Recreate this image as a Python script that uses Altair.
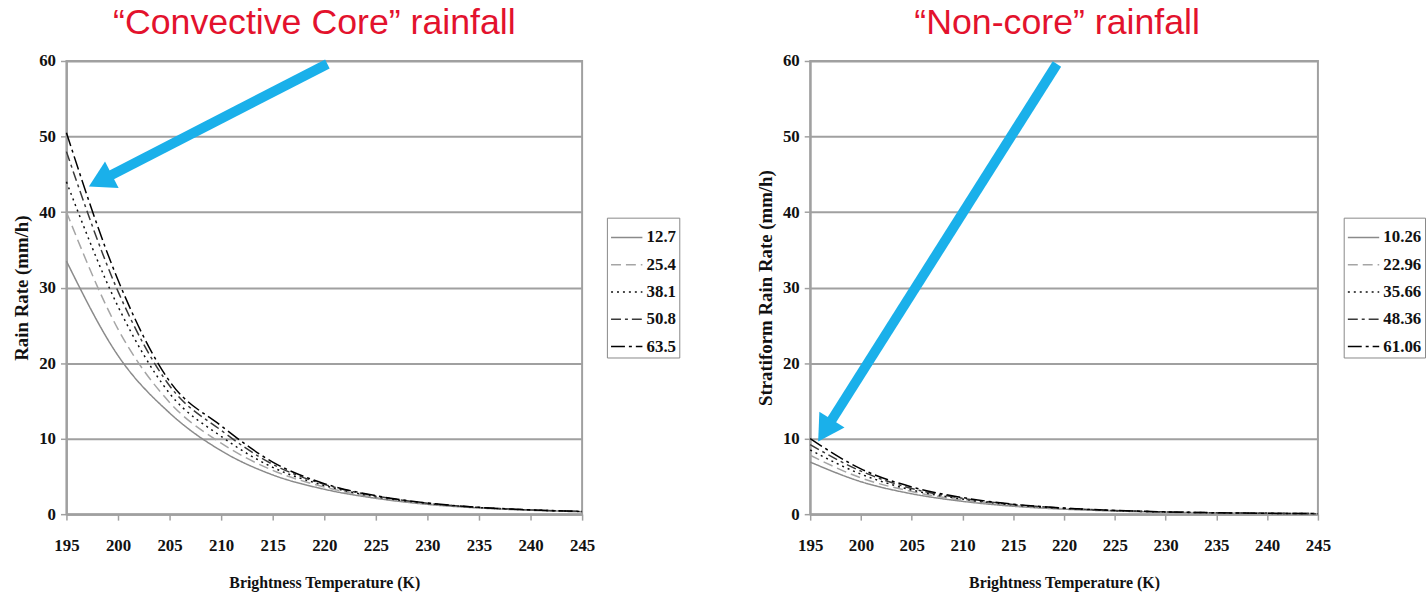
import altair as alt
import pandas as pd

# ---- data ----
temps = [195, 200, 205, 210, 215, 220, 225, 230, 235, 240, 245]

core_labels = ["12.7", "25.4", "38.1", "50.8", "63.5"]
core_127 = [33.5, 21.0, 13.4, 8.4, 5.2, 3.3, 2.1, 1.30, 0.82, 0.52, 0.32]
core_254 = [40.0, 24.5, 14.8, 9.4, 5.8, 3.6, 2.2, 1.38, 0.86, 0.55, 0.34]
core_381 = [44.0, 27.5, 16.0, 10.3, 6.2, 3.8, 2.3, 1.42, 0.88, 0.56, 0.35]
core_508 = [48.0, 29.5, 17.0, 11.1, 6.6, 3.95, 2.4, 1.46, 0.90, 0.57, 0.36]
core_635 = [50.5, 31.0, 17.6, 11.7, 6.9, 4.05, 2.45, 1.48, 0.91, 0.58, 0.36]

strat_labels = ["10.26", "22.96", "35.66", "48.36", "61.06"]
strat_1026 = [6.9, 4.3, 2.7, 1.70, 1.05, 0.66, 0.42, 0.26, 0.16, 0.10, 0.06]
strat_2296 = [7.8, 4.8, 3.0, 1.85, 1.15, 0.72, 0.45, 0.28, 0.17, 0.11, 0.07]
strat_3566 = [8.5, 5.3, 3.2, 2.00, 1.22, 0.76, 0.47, 0.29, 0.18, 0.11, 0.07]
strat_4836 = [9.2, 5.7, 3.4, 2.10, 1.28, 0.79, 0.49, 0.30, 0.19, 0.12, 0.07]
strat_6106 = [10.0, 6.0, 3.6, 2.20, 1.32, 0.81, 0.50, 0.31, 0.19, 0.12, 0.07]

# arrow annotations (data coordinates): start, shaft end, head centre
core_arrow_T = [220.3, 199.2]
core_arrow_R = [59.6, 44.8]
core_head = (198.66, 44.43)
strat_arrow_T = [219.3, 197.05]
strat_arrow_R = [59.6, 12.33]
strat_head = (196.69, 11.55)

# ---- styles ----
line_colors = ["#8a8a8a", "#a5a5a5", "#111111", "#3a3a3a", "#000000"]
line_dashes = [[1, 0], [10, 5], [2, 4], [10, 4, 3, 4], [14, 4, 3, 4]]
line_widths = [1.5, 1.5, 2.0, 2.0, 2.6]
ARROW = "#1ab0ea"
SERIF = "Liberation Serif"


def make_df(labels, series):
    rows = []
    for lab, vals in zip(labels, series):
        for t, v in zip(temps, vals):
            rows.append({"T": t, "R": v, "S": lab})
    return pd.DataFrame(rows)


def panel(df, labels, ytitle, title, title_dx, arrow_T, arrow_R, head, head_angle, lx, ly, w):
    x_enc = alt.X(
        "T:Q",
        scale=alt.Scale(domain=[195, 245], nice=False, zero=False),
        axis=alt.Axis(values=temps, title="Brightness Temperature (K)", grid=False, labelFlush=False),
    )
    y_enc = alt.Y(
        "R:Q",
        scale=alt.Scale(domain=[0, 60], nice=False),
        axis=alt.Axis(values=[0, 10, 20, 30, 40, 50, 60], title=ytitle, grid=True),
    )
    leg = alt.Legend(
        title=None,
        orient="none",
        legendX=lx,
        legendY=ly,
        symbolType="stroke",
        symbolSize=1000,
    )
    lines = alt.Chart(df).mark_line(interpolate="monotone").encode(
        x=x_enc,
        y=y_enc,
        color=alt.Color("S:O", sort=labels, scale=alt.Scale(domain=labels, range=line_colors), legend=leg),
        strokeDash=alt.StrokeDash("S:O", sort=labels, scale=alt.Scale(domain=labels, range=line_dashes), legend=leg),
        strokeWidth=alt.StrokeWidth("S:O", sort=labels, scale=alt.Scale(domain=labels, range=line_widths), legend=leg),
    )
    shaft_df = pd.DataFrame({"T": arrow_T, "R": arrow_R, "o": [0, 1]})
    shaft = alt.Chart(shaft_df).mark_line(color=ARROW, strokeWidth=10, strokeCap="butt").encode(
        x=x_enc, y=y_enc, order="o:Q"
    )
    head_df = pd.DataFrame({"T": [head[0]], "R": [head[1]]})
    tip = alt.Chart(head_df).mark_point(
        shape="triangle", filled=True, size=900, angle=head_angle, color=ARROW, opacity=1
    ).encode(x=x_enc, y=y_enc)
    return alt.layer(lines, shaft, tip).properties(
        width=w,
        height=457,
        title=alt.TitleParams(
            title,
            fontSize=36,
            font="Liberation Sans",
            fontWeight="normal",
            color="#e3122d",
            frame="group",
            anchor="middle",
            dx=title_dx,
            offset=2,
        ),
    )


core_df = make_df(core_labels, [core_127, core_254, core_381, core_508, core_635])
strat_df = make_df(strat_labels, [strat_1026, strat_2296, strat_3566, strat_4836, strat_6106])

left = panel(core_df, core_labels, "Rain Rate (mm/h)", "\u201cConvective Core\u201d rainfall", -10,
             core_arrow_T, core_arrow_R, core_head, 242.8, 545, 158, 520)
right = panel(strat_df, strat_labels, "Stratiform Rain Rate (mm/h)", "\u201cNon-core\u201d rainfall", -7,
              strat_arrow_T, strat_arrow_R, strat_head, 212.3, 538, 158, 512)

chart = alt.hconcat(left, right, spacing=75).resolve_scale(
    color="independent", strokeDash="independent", strokeWidth="independent"
).resolve_legend(
    color="independent", strokeDash="independent", strokeWidth="independent"
).properties(
    padding={"left": 12, "top": 2, "right": 0, "bottom": 0}
).configure_view(
    stroke="#a0a0a0", strokeWidth=2
).configure_axis(
    domainColor="#a0a0a0",
    domainWidth=2,
    gridColor="#a0a0a0",
    gridWidth=2,
    tickColor="#a0a0a0",
    tickWidth=1.5,
    tickSize=6,
    labelFont=SERIF,
    labelFontWeight="bold",
    labelFontSize=17,
    labelColor="#111111",
    titleFont=SERIF,
    titleFontWeight="bold",
    titleColor="#111111",
).configure_axisX(
    labelPadding=18,
    titleFontSize=16,
    titlePadding=21,
).configure_axisY(
    labelPadding=5,
    titleFontSize=19,
    titlePadding=7,
).configure_legend(
    strokeColor="#888888",
    padding=3,
    rowPadding=2.5,
    labelFont=SERIF,
    labelFontWeight="bold",
    labelFontSize=17,
    labelColor="#111111",
    labelOffset=3,
    fillColor="white",
)

chart.save("out.html", embed_options={"renderer": "svg", "actions": False})
